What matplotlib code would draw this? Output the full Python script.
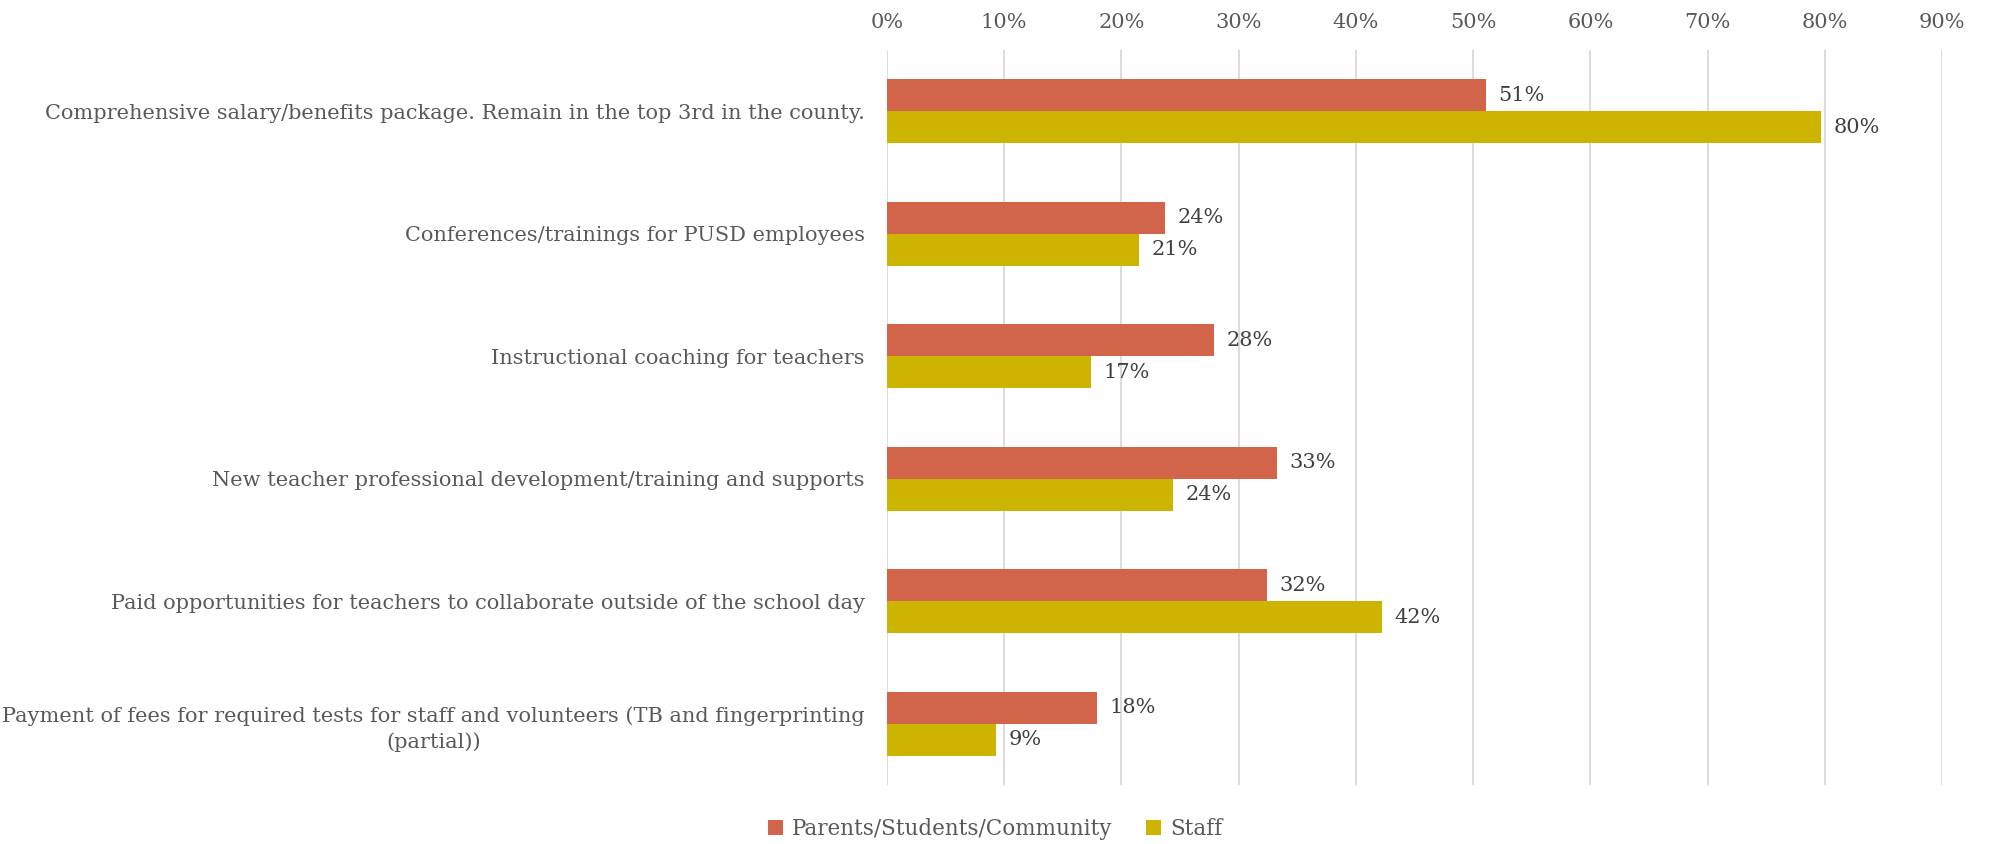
import matplotlib
matplotlib.use("Agg")
import matplotlib.pyplot as plt
import numpy as np

# data
categories = [
    "Comprehensive salary/benefits package. Remain in the top 3rd in the county.",
    "Conferences/trainings for PUSD employees",
    "Instructional coaching for teachers",
    "New teacher professional development/training and supports",
    "Paid opportunities for teachers to collaborate outside of the school day",
    "Payment of fees for required tests for staff and volunteers (TB and fingerprinting\n(partial))",
]
parents = [0.511, 0.237, 0.279, 0.333, 0.324, 0.179]
staff = [0.797, 0.215, 0.174, 0.244, 0.422, 0.093]
parents_labels = ["51%", "24%", "28%", "33%", "32%", "18%"]
staff_labels = ["80%", "21%", "17%", "24%", "42%", "9%"]
series_names = ["Parents/Students/Community", "Staff"]
xticks = np.arange(0, 1.0, 0.1)

red = "#D2644A"
gold = "#CDB400"
txt = "#595959"

plt.rcParams["font.family"] = ["DejaVu Serif"]

fig = plt.figure(figsize=(19.9, 8.44), dpi=100)
ax = fig.add_axes([0.4457, 0.0696, 0.9759 - 0.4457, 0.941 - 0.0696])

y = np.arange(len(categories))
h = 0.261
b1 = ax.barh(y - h / 2, parents, height=h, color=red, label=series_names[0])
b2 = ax.barh(y + h / 2, staff, height=h, color=gold, label=series_names[1])
ax.bar_label(b1, labels=parents_labels, padding=9, fontsize=15, color="#404040")
ax.bar_label(b2, labels=staff_labels, padding=9, fontsize=15, color="#404040")

ax.set_ylim(len(categories) - 0.5, -0.5)
ax.set_xlim(0, 0.9)
ax.set_xticks(xticks)
ax.set_xticklabels([f"{int(round(t * 100))}%" for t in xticks])
ax.xaxis.tick_top()
ax.tick_params(axis="x", length=0, pad=13, labelsize=15, labelcolor=txt)
ax.set_yticks(y)
ax.set_yticklabels(categories, multialignment="center", linespacing=1.4)
ax.tick_params(axis="y", length=0, pad=16, labelsize=15, labelcolor=txt)

ax.grid(axis="x", color="#D9D9D9", linewidth=1.3)
ax.set_axisbelow(True)
for s in ax.spines.values():
    s.set_visible(False)

fig.legend(loc="center", bbox_to_anchor=(0.5, 0.018), ncol=2, frameon=False,
           fontsize=15.5, labelcolor=txt, handlelength=0.7, handleheight=0.7,
           handletextpad=0.4, columnspacing=1.6)

fig.savefig("out.png", dpi=100)
